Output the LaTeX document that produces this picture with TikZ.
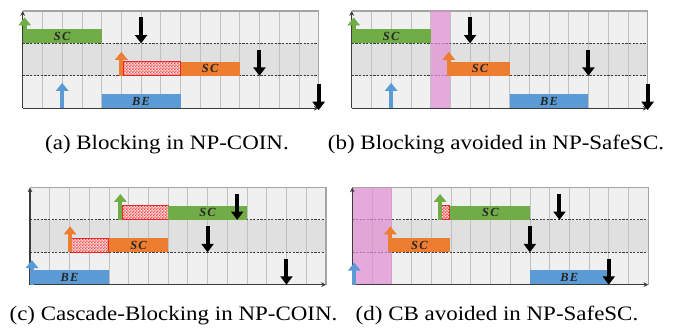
\documentclass[tikz,border=0pt]{standalone}
\usepackage{fontspec}
\usepackage{graphicx}
\setmainfont{Liberation Serif}
\usetikzlibrary{arrows.meta,calc,patterns}

\definecolor{scgreen}{RGB}{112,173,71}
\definecolor{scorange}{RGB}{237,125,49}
\definecolor{beblue}{RGB}{91,155,213}
\definecolor{safepink}{RGB}{226,140,211}
\definecolor{rowlight}{RGB}{240,240,240}
\definecolor{rowmid}{RGB}{224,224,224}
\definecolor{gridgray}{RGB}{192,192,192}
\definecolor{framegray}{RGB}{165,165,165}
\definecolor{axisgray}{RGB}{60,60,60}
\definecolor{blockred}{RGB}{235,40,40}
\definecolor{blockbg}{RGB}{250,218,218}

% fine red/white checker used for blocked intervals
\pgfdeclarepatternformonly{finecheck}{\pgfpointorigin}{\pgfpoint{1.4pt}{1.4pt}}{\pgfpoint{1.4pt}{1.4pt}}{%
  \pgfpathrectangle{\pgfpointorigin}{\pgfpoint{0.7pt}{0.7pt}}%
  \pgfpathrectangle{\pgfpoint{0.7pt}{0.7pt}}{\pgfpoint{0.7pt}{0.7pt}}%
  \pgfusepath{fill}}

\tikzset{
  gridline/.style={draw=gridgray, line width=0.35pt},
  rowsep/.style={draw=axisgray, line width=0.55pt, dash pattern=on 1.1pt off 0.7pt},
  frameline/.style={draw=framegray, line width=0.6pt},
  axisline/.style={draw=axisgray, line width=0.6pt, -{Stealth[length=2.4pt,width=2.4pt]}},
  safezone/.style={fill=safepink, fill opacity=0.7},
  release/.style={line width=2pt, -{Triangle[width=6.2pt,length=4pt]}},
  deadline/.style={line width=2pt, black, -{Triangle[width=6pt,length=4.2pt]}},
  blockfill/.style={fill=blockbg},
  blockbox/.style={draw=blockred, line width=0.5pt, pattern=finecheck, pattern color=blockred!85},
  joblabel/.style={font=\fontsize{6.2}{7}\selectfont\bfseries\itshape, text=black!85, inner sep=0pt},
  subcap/.style={font=\fontsize{10.25}{12}\selectfont, anchor=base, inner sep=0pt},
}

% background grid of one panel: 15 slots, 3 rows (grid units)
\newcommand\slotgrid{%
  \fill[rowlight] (0,0) rectangle (15,1);
  \fill[rowmid] (0,1) rectangle (15,2);
  \fill[rowlight] (0,2) rectangle (15,3);
  \foreach \c in {1,...,14} \draw[gridline] (\c,0) -- (\c,3);
  \draw[rowsep] (0,1) -- (15,1) (0,2) -- (15,2);
  \draw[frameline] (0,0) -- (15,0) -- (15,3);
}
\newcommand\slotaxes{%
  \coordinate (o) at (0,3);
  \coordinate (ytop) at (0,0);
  \coordinate (xend) at (15,3);
  \draw[axisline] (o) -- (ytop);
  \draw[axisline] (o) -- (xend);
}
% blocked interval: #1,#2 = start/end slot, #3 = row bottom
\newcommand\blocked[3]{%
  \fill[blockfill] (#1,#3-0.44) rectangle (#2,#3);
  \path[blockbox] (#1,#3-0.44) rectangle (#2,#3);
}

\begin{document}
\begin{tikzpicture}
\useasboundingbox (0,0) rectangle (343pt,-166.5pt);

%% (a) Blocking in NP-COIN
\begin{scope}[xshift=11.35pt, yshift=-5.5pt, x=9.865pt, y=-16.2pt]
  \slotgrid
  \fill[scgreen] (0,0.56) rectangle (4,1);
  \node[joblabel] (aSCg) at (2,0.78) {S\kern0.6ptC};
  \blocked{5.09}{8}{2}
  \fill[scorange] (8,1.56) rectangle (11,2);
  \node[joblabel] (aSCo) at (9.5,1.78) {S\kern0.6ptC};
  \fill[beblue] (4,2.56) rectangle (8,3);
  \node[joblabel] (aBE) at (6,2.78) {B\kern0.6ptE};
  \slotaxes
  \draw[release, scgreen] (0.1,1) -- (0.1,0.2);
  \draw[release, scorange] (5,2) -- (5,1.26);
  \draw[release, beblue] (2,3) -- (2,2.22);
  \draw[deadline] (6,0.2) -- (6,1);
  \draw[deadline] (12,1.2) -- (12,2);
  \draw[deadline] (15,2.26) -- (15,3.06);
\end{scope}

%% (b) Blocking avoided in NP-SafeSC
\begin{scope}[xshift=175.85pt, yshift=-5.5pt, x=9.865pt, y=-16.2pt]
  \slotgrid
  \fill[safezone] (4,0) rectangle (5,3);
  \fill[scgreen] (0,0.56) rectangle (4,1);
  \node[joblabel] (bSCg) at (2,0.78) {S\kern0.6ptC};
  \fill[scorange] (5,1.56) rectangle (8,2);
  \node[joblabel] (bSCo) at (6.5,1.78) {S\kern0.6ptC};
  \fill[beblue] (8,2.56) rectangle (12,3);
  \node[joblabel] (bBE) at (10,2.78) {B\kern0.6ptE};
  \slotaxes
  \draw[release, scgreen] (0.1,1) -- (0.1,0.2);
  \draw[release, scorange] (4.92,2) -- (4.92,1.26);
  \draw[release, beblue] (2,3) -- (2,2.22);
  \draw[deadline] (6,0.2) -- (6,1);
  \draw[deadline] (12,1.2) -- (12,2);
  \draw[deadline] (15,2.26) -- (15,3.06);
\end{scope}

%% (c) Cascade-Blocking in NP-COIN
\begin{scope}[xshift=15pt, yshift=-93.75pt, x=9.865pt, y=-16.2pt]
  \slotgrid
  \blocked{4.67}{7}{1}
  \fill[scgreen] (7,0.56) rectangle (11,1);
  \node[joblabel] (cSCg) at (9,0.78) {S\kern0.6ptC};
  \blocked{2.12}{4}{2}
  \fill[scorange] (4,1.56) rectangle (7,2);
  \node[joblabel] (cSCo) at (5.5,1.78) {S\kern0.6ptC};
  \fill[beblue] (0,2.56) rectangle (4,3);
  \node[joblabel] (cBE) at (2,2.78) {B\kern0.6ptE};
  \slotaxes
  \draw[release, scgreen] (4.58,1) -- (4.58,0.2);
  \draw[release, scorange] (2.03,2) -- (2.03,1.2);
  \draw[release, beblue] (0.1,3) -- (0.1,2.24);
  \draw[deadline] (10.5,0.2) -- (10.5,1);
  \draw[deadline] (9,1.2) -- (9,2);
  \draw[deadline] (13,2.2) -- (13,3);
\end{scope}

%% (d) CB avoided in NP-SafeSC
\begin{scope}[xshift=176.15pt, yshift=-93.75pt, x=9.865pt, y=-16.2pt]
  \slotgrid
  \fill[safezone] (0,0) rectangle (2,3);
  \blocked{4.53}{4.95}{1}
  \fill[scgreen] (4.95,0.56) rectangle (9,1);
  \node[joblabel] (dSCg) at (7,0.78) {S\kern0.6ptC};
  \fill[scorange] (1.88,1.56) rectangle (4.95,2);
  \node[joblabel] (dSCo) at (3.4,1.78) {S\kern0.6ptC};
  \fill[beblue] (9,2.56) rectangle (13,3);
  \node[joblabel] (dBE) at (11,2.78) {B\kern0.6ptE};
  \slotaxes
  \draw[release, scgreen] (4.45,1) -- (4.45,0.2);
  \draw[release, scorange] (1.93,2) -- (1.93,1.2);
  \draw[release, beblue] (0.1,3) -- (0.1,2.32);
  \draw[deadline] (10.5,0.2) -- (10.5,1);
  \draw[deadline] (9,1.2) -- (9,2);
  \draw[deadline] (13,2.2) -- (13,3);
\end{scope}

%% sub-captions
\node[subcap] (capa) at (83.5pt,-74.5pt) {\scalebox{1.12}[1]{(a) Blocking in NP-COIN.}};
\node[subcap] (capb) at (248pt,-74.5pt) {\scalebox{1.12}[1]{(b) Blocking avoided in NP-SafeSC.}};
\node[subcap] (capc) at (86.75pt,-160pt) {\scalebox{1.12}[1]{(c) Cascade-Blocking in NP-COIN.}};
\node[subcap] (capd) at (248.5pt,-160pt) {\scalebox{1.12}[1]{(d) CB avoided in NP-SafeSC.}};
\end{tikzpicture}
\end{document}
